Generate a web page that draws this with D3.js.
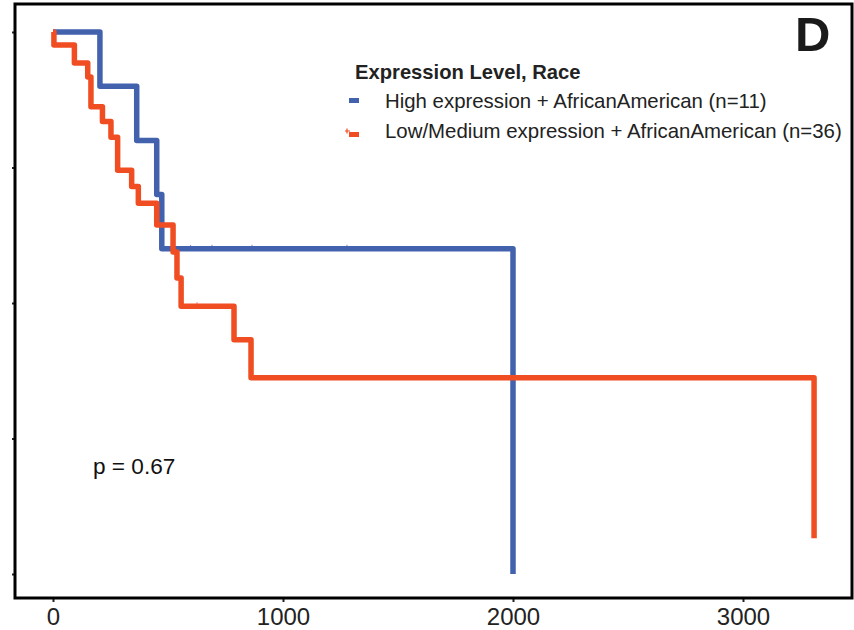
<!DOCTYPE html>
<html>
<head>
<meta charset="utf-8">
<script src="https://cdn.jsdelivr.net/npm/d3@7"></script>
<style>
  body { margin: 0; background: #fff; }
  text { font-family: "Liberation Sans", Arial, sans-serif; }
</style>
</head>
<body>
<div id="chart"></div>
<script>
// data
const xTicks = [0, 1000, 2000, 3000];
const yTicks = [0, 0.25, 0.5, 0.75, 1];

const highTimes = [0, 204, 364, 451, 473, 2000];
const highSurv  = [1, 0.9, 0.8, 0.7, 0.6, 0];
const highCensor = [598, 691, 865, 1278];

const lowTimes = [0, 4, 93, 151, 165, 215, 252, 281, 342, 371, 451, 522, 539, 557, 787, 861, 3309];
const lowSurv  = [1, 0.976, 0.943, 0.917, 0.862, 0.835, 0.806, 0.745, 0.715, 0.684, 0.644, 0.594, 0.546, 0.494, 0.432, 0.362, 0.066];
const lowCensor = [626];

const seriesNames = ["High expression + AfricanAmerican (n=11)", "Low/Medium expression + AfricanAmerican (n=36)"];
const seriesColors = ["#4262ae", "#f04d23"];
const legendTitle = "Expression Level, Race";
const pText = "p = 0.67";
const panelLabel = "D";

const W = 854, H = 630;
const frame = { left: 15, top: 4, right: 852, bottom: 598 };

const svg = d3.select('#chart')
    .append('svg')
    .attr('width', W)
    .attr('height', H);

const x = d3.scaleLinear().domain([0, 3000]).range([53, 743]);
const y = d3.scaleLinear().domain([0, 1]).range([574, 32]);

// axes
svg.append('g')
    .attr('transform', `translate(0, ${frame.bottom})`)
    .call(d3.axisBottom(x).tickValues(xTicks).tickSize(4).tickPadding(6).tickFormat(d3.format('d')))
    .call(g => g.select('.domain').remove())
    .call(g => g.selectAll('line').attr('stroke', '#222').attr('stroke-width', 2))
    .selectAll('text')
    .attr('font-size', 24)
    .attr('fill', '#222');

svg.append('g')
    .attr('transform', `translate(${frame.left}, 0)`)
    .call(d3.axisLeft(y).tickValues(yTicks).tickSize(3).tickFormat(''))
    .call(g => g.select('.domain').remove())
    .call(g => g.selectAll('line').attr('stroke', '#222').attr('stroke-width', 2));

// KM curves
const line = d3.line()
    .x(d => x(d[0]))
    .y(d => y(d[1]))
    .curve(d3.curveStepAfter);

function survAt(times, surv, t) {
    let s = surv[0];
    for (let i = 0; i < times.length; i++) if (times[i] <= t) s = surv[i];
    return s;
}

const series = [
    { times: highTimes, surv: highSurv, censor: highCensor, color: seriesColors[0] },
    { times: lowTimes, surv: lowSurv, censor: lowCensor, color: seriesColors[1] }
];

series.forEach(sr => {
    svg.append('path')
        .datum(d3.zip(sr.times, sr.surv))
        .attr('d', line)
        .attr('fill', 'none')
        .attr('stroke', sr.color)
        .attr('stroke-width', 5.5)
        .attr('stroke-linejoin', 'round');

    svg.selectAll(null)
        .data(sr.censor)
        .join('line')
        .attr('x1', d => x(d)).attr('x2', d => x(d))
        .attr('y1', d => y(survAt(sr.times, sr.surv, d)) - 4)
        .attr('y2', d => y(survAt(sr.times, sr.surv, d)))
        .attr('stroke', sr.color)
        .attr('stroke-width', 1.2)
        .attr('opacity', 0.6);
});

// frame
svg.append('rect')
    .attr('x', frame.left).attr('y', frame.top)
    .attr('width', frame.right - frame.left)
    .attr('height', frame.bottom - frame.top)
    .attr('fill', 'none')
    .attr('stroke', '#000')
    .attr('stroke-width', 3);

// legend
const legend = svg.append('g').attr('transform', 'translate(355, 0)');
legend.append('text')
    .attr('x', 0).attr('y', 79)
    .attr('font-size', 20.2).attr('font-weight', 'bold')
    .attr('fill', '#222')
    .text(legendTitle);

seriesNames.forEach((name, i) => {
    const yy = 108 + i * 30;
    legend.append('rect')
        .attr('x', -6).attr('y', yy - 10 + i * 4)
        .attr('width', 10).attr('height', 5)
        .attr('fill', seriesColors[i]);
    legend.append('text')
        .attr('x', 30).attr('y', yy)
        .attr('font-size', 20.4)
        .attr('fill', '#222')
        .text(name);
});
legend.append('path')
    .attr('d', 'M-10,131H-5M-8,128.5V133.5')
    .attr('stroke', seriesColors[1])
    .attr('stroke-width', 1.2);

svg.append('text')
    .attr('x', 93).attr('y', 474)
    .attr('font-size', 22.6)
    .attr('fill', '#111')
    .text(pText);

svg.append('text')
    .attr('x', 795).attr('y', 51)
    .attr('font-size', 49).attr('font-weight', 'bold')
    .attr('fill', '#1a1a1a')
    .text(panelLabel);
</script>
</body>
</html>
